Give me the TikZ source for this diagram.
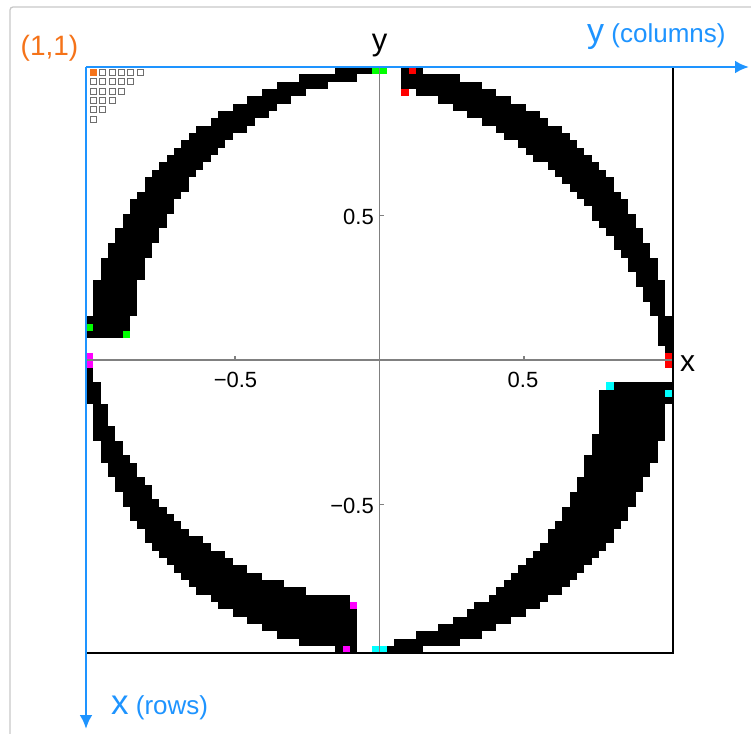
\documentclass[tikz,border=0pt]{standalone}
\usepackage{fontspec}
\setmainfont{Liberation Sans}
\usetikzlibrary{arrows.meta}
\definecolor{axblue}{RGB}{30,148,255}
\definecolor{oneorange}{RGB}{245,115,25}
\definecolor{axgray}{RGB}{128,128,128}
\definecolor{framegray}{RGB}{200,200,200}
\definecolor{sqgray}{RGB}{110,110,110}
\definecolor{mkgreen}{RGB}{0,255,0}
\definecolor{mkred}{RGB}{255,0,0}
\definecolor{mkcyan}{RGB}{0,255,255}
\definecolor{mkmag}{RGB}{255,0,255}
\def\cs{7.33}
\newcommand\ringcell[3]{\fill[#3] ({86+#1*\cs},{67+#2*\cs}) rectangle ++(\cs,\cs);}
\tikzset{
  ticklbl/.style={font=\fontsize{22}{24}\selectfont, inner sep=0pt},
  axlbl/.style={font=\fontsize{31}{34}\selectfont, inner sep=0pt, anchor=base},
  bluearrow/.style={draw=axblue, line width=2.8pt, -{Latex[length=14pt,width=13pt]}},
  grayaxis/.style={draw=axgray, line width=1.8pt},
  tickmark/.style={draw=axgray, line width=1.2pt},
  idxsq/.style={draw=sqgray, line width=0.9pt, fill=white}
}
\begin{document}
\begin{tikzpicture}[x=1pt,y=-1pt]
\useasboundingbox[fill=white] (0,0) rectangle (751,733);
% outer light frame
\draw[framegray, line width=1.3pt, rounded corners=3pt] (10,770) -- (10,7) -- (790,7);
% ring cells
\foreach \c in {0,...,79}{
  \foreach \r in {0,...,79}{
    \pgfmathsetmacro\cX{\c-39.5}
    \pgfmathsetmacro\cY{39.5-\r}
    \pgfmathsetmacro\cR{sqrt(\cX*\cX+\cY*\cY)}
    \ifdim\cR pt<40.01pt
    \ifdim\cR pt>29pt
      \def\q{0}%
      \ifnum\c>42 \ifnum\r<41 \def\q{1}\fi\fi
      \ifnum\c<41 \ifnum\r<37 \def\q{2}\fi\fi
      \ifnum\c<37 \ifnum\r>38 \def\q{3}\fi\fi
      \ifnum\c>38 \ifnum\r>42 \def\q{4}\fi\fi
      \pgfmathsetmacro\angl{atan2(\cY,\cX)}
      \ifcase\q
        \def\tq{0}\def\sq{1}\def\phq{0}%
      \or
        \def\tq{4.2}\def\sq{1.8}\pgfmathsetmacro\phq{\angl}%
      \or
        \def\tq{5}\def\sq{1}\pgfmathsetmacro\phq{\angl-90}%
      \or
        \def\tq{6.3}\def\sq{1}\pgfmathsetmacro\phq{\angl<0 ? \angl+180 : \angl-180}%
      \or
        \def\tq{8.3}\def\sq{1}\pgfmathsetmacro\phq{\angl+90}%
      \fi
      \ifnum\q>0
        \pgfmathsetmacro\rinn{39-\tq*sin(\sq*max(0,min(90,\phq)))}
        \ifdim\cR pt<\rinn pt\else
          \ringcell{\c}{\r}{black}
        \fi
      \fi
    \fi
    \fi
  }
}
% marker cells
\foreach \a/\b in {39/0,40/0,0/35,5/36}{\ringcell{\a}{\b}{mkgreen}}
\foreach \a/\b in {44/0,43/3,79/39,79/40}{\ringcell{\a}{\b}{mkred}}
\foreach \a/\b in {71/43,79/44,39/79,40/79}{\ringcell{\a}{\b}{mkcyan}}
\foreach \a/\b in {0/39,0/40,36/73,35/79}{\ringcell{\a}{\b}{mkmag}}
% index squares
\foreach \j in {0,...,5}{
  \pgfmathtruncatemacro\nmax{5-\j}
  \foreach \i in {0,...,\nmax}{
    \draw[idxsq] ({90.5+\i*9.33},{69.5+\j*9.33}) rectangle ++(6,6);
  }
}
\fill[oneorange] (90,69) rectangle ++(7,7);
% gray plot axes
\coordinate (axL) at (86,360);
\coordinate (axR) at (673,360);
\coordinate (axT) at (379.5,67);
\coordinate (axB) at (379.5,653);
\draw[grayaxis] (axL) -- (axR);
\draw[grayaxis] (axT) -- (axB);
% ticks
\coordinate (tx1) at (235,360);
\coordinate (tx2) at (524,360);
\coordinate (ty1) at (379.5,215.5);
\coordinate (ty2) at (379.5,504.5);
\draw[tickmark] (tx1) -- ++(0,-4);
\draw[tickmark] (tx2) -- ++(0,-4);
\draw[tickmark] (ty1) -- ++(4,0);
\draw[tickmark] (ty2) -- ++(4,0);
\node[ticklbl, anchor=base] (lxm) at (235.5,387) {−0.5};
\node[ticklbl, anchor=base] (lxp) at (523,387) {0.5};
\node[ticklbl, anchor=base east] (lyp) at (374,224) {0.5};
\node[ticklbl, anchor=base east] (lym) at (374,513) {−0.5};
\node[axlbl] (ylab) at (379.5,51) {y};
\node[axlbl, font=\fontsize{30}{32}\selectfont] (xlab) at (687.5,371.5) {x};
% black frame (right and bottom)
\coordinate (fTR) at (673,67);
\coordinate (fBR) at (673,653);
\coordinate (fBL) at (86,653);
\draw[black, line width=2.6pt] (fTR) -- (fBR) -- (fBL);
% blue index axes
\coordinate (orig) at (86,67);
\coordinate (yend) at (749,67);
\coordinate (xend) at (86,729);
\draw[bluearrow] (orig) -- (yend);
\draw[bluearrow] (orig) -- (xend);
\node[anchor=base west, inner sep=0pt, text=axblue] (ycol) at (587,43)
  {\fontsize{34}{36}\selectfont y\fontsize{26}{28}\selectfont\ (columns)};
\node[anchor=base west, inner sep=0pt, text=axblue] (xrow) at (111,714)
  {\fontsize{35}{37}\selectfont x\fontsize{26}{28}\selectfont\ (rows)};
\node[anchor=base west, inner sep=0pt, text=oneorange, font=\fontsize{28}{30}\selectfont] (one) at (20.5,56) {(1,1)};
\end{tikzpicture}
\end{document}
